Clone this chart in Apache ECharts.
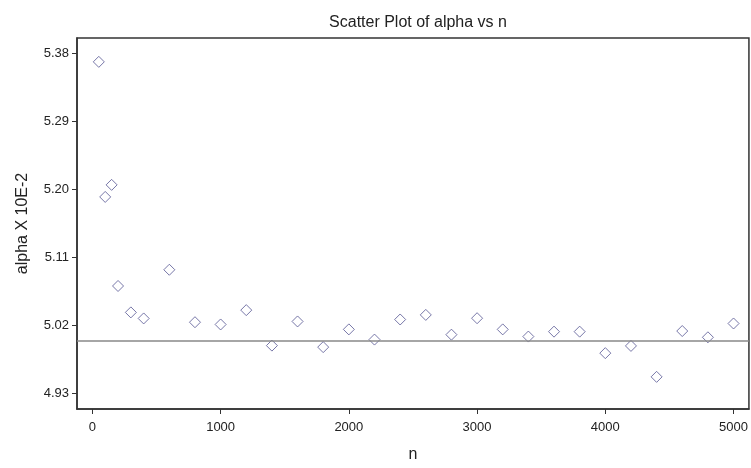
<!DOCTYPE html>
<html>
<head>
<meta charset="utf-8">
<script src="https://cdn.jsdelivr.net/npm/echarts@6/dist/echarts.min.js"></script>
<style>
  html, body { margin: 0; padding: 0; background: #fff; }
  #chart { width: 751px; height: 468px; }
</style>
</head>
<body>
<div id="chart"></div>
<script>
// values
const nValues = [50, 100, 150, 200, 300, 400, 600, 800, 1000, 1200, 1400, 1600, 1800, 2000,
    2200, 2400, 2600, 2800, 3000, 3200, 3400, 3600, 3800, 4000, 4200, 4400, 4600, 4800, 5000];
const alphaValues = [5.369, 5.190, 5.206, 5.072, 5.037, 5.029, 5.0935, 5.024, 5.021, 5.040,
    4.993, 5.025, 4.991, 5.0145, 5.001, 5.0276, 5.0337, 5.0075, 5.0293, 5.0145, 5.005,
    5.0115, 5.0115, 4.983, 4.9926, 4.9516, 5.0123, 5.004, 5.0223];
const xTicks = [0, 1000, 2000, 3000, 4000, 5000];
const yTicks = [4.93, 5.02, 5.11, 5.20, 5.29, 5.38];
const refLevel = 5.00;

const points = nValues.map((n, i) => [n, alphaValues[i]]);

const chart = echarts.init(document.getElementById('chart'));
const font = 'Liberation Sans, Arial, sans-serif';
const axisText = {color: '#222', fontSize: 13, fontFamily: font};

chart.setOption({
    animation: false,
    title: {
        text: 'Scatter Plot of alpha vs n',
        left: 413, top: 10, textAlign: 'center',
        textStyle: {fontSize: 16, fontWeight: 'normal', color: '#222', fontFamily: font}
    },
    grid: {
        left: 77, top: 38, right: 1, bottom: 55,
        show: true, borderColor: '#333', borderWidth: 1.5, backgroundColor: '#fff'
    },
    xAxis: {
        type: 'value', min: -120, max: 5120,
        name: 'n', nameLocation: 'middle', nameGap: 38,
        nameTextStyle: {fontSize: 16, color: '#222', fontFamily: font},
        axisLine: {show: true, onZero: false, lineStyle: {color: '#333', width: 1.5}},
        axisTick: {show: true, length: 5, customValues: xTicks, lineStyle: {color: '#333'}},
        axisLabel: {...axisText, margin: 12, customValues: xTicks, formatter: v => String(v)},
        splitLine: {show: false}
    },
    yAxis: {
        type: 'value', min: 4.909, max: 5.4006,
        name: 'alpha X 10E-2', nameLocation: 'middle', nameGap: 46,
        nameTextStyle: {fontSize: 16, color: '#222', fontFamily: font},
        axisLine: {show: true, onZero: false, lineStyle: {color: '#333', width: 1.5}},
        axisTick: {show: true, length: 5, customValues: yTicks, lineStyle: {color: '#333'}},
        axisLabel: {...axisText, margin: 8, customValues: yTicks,
            formatter: v => v.toFixed(2)},
        splitLine: {show: false}
    },
    series: [{
        type: 'scatter',
        data: points,
        symbol: 'diamond',
        symbolSize: [11, 11],
        itemStyle: {color: 'rgba(0,0,0,0)', borderColor: '#555592', borderWidth: 1},
        markLine: {
            silent: true,
            symbol: 'none',
            label: {show: false},
            lineStyle: {color: '#888', width: 1.5, type: 'solid'},
            data: [{yAxis: refLevel}]
        }
    }]
});
</script>
</body>
</html>
